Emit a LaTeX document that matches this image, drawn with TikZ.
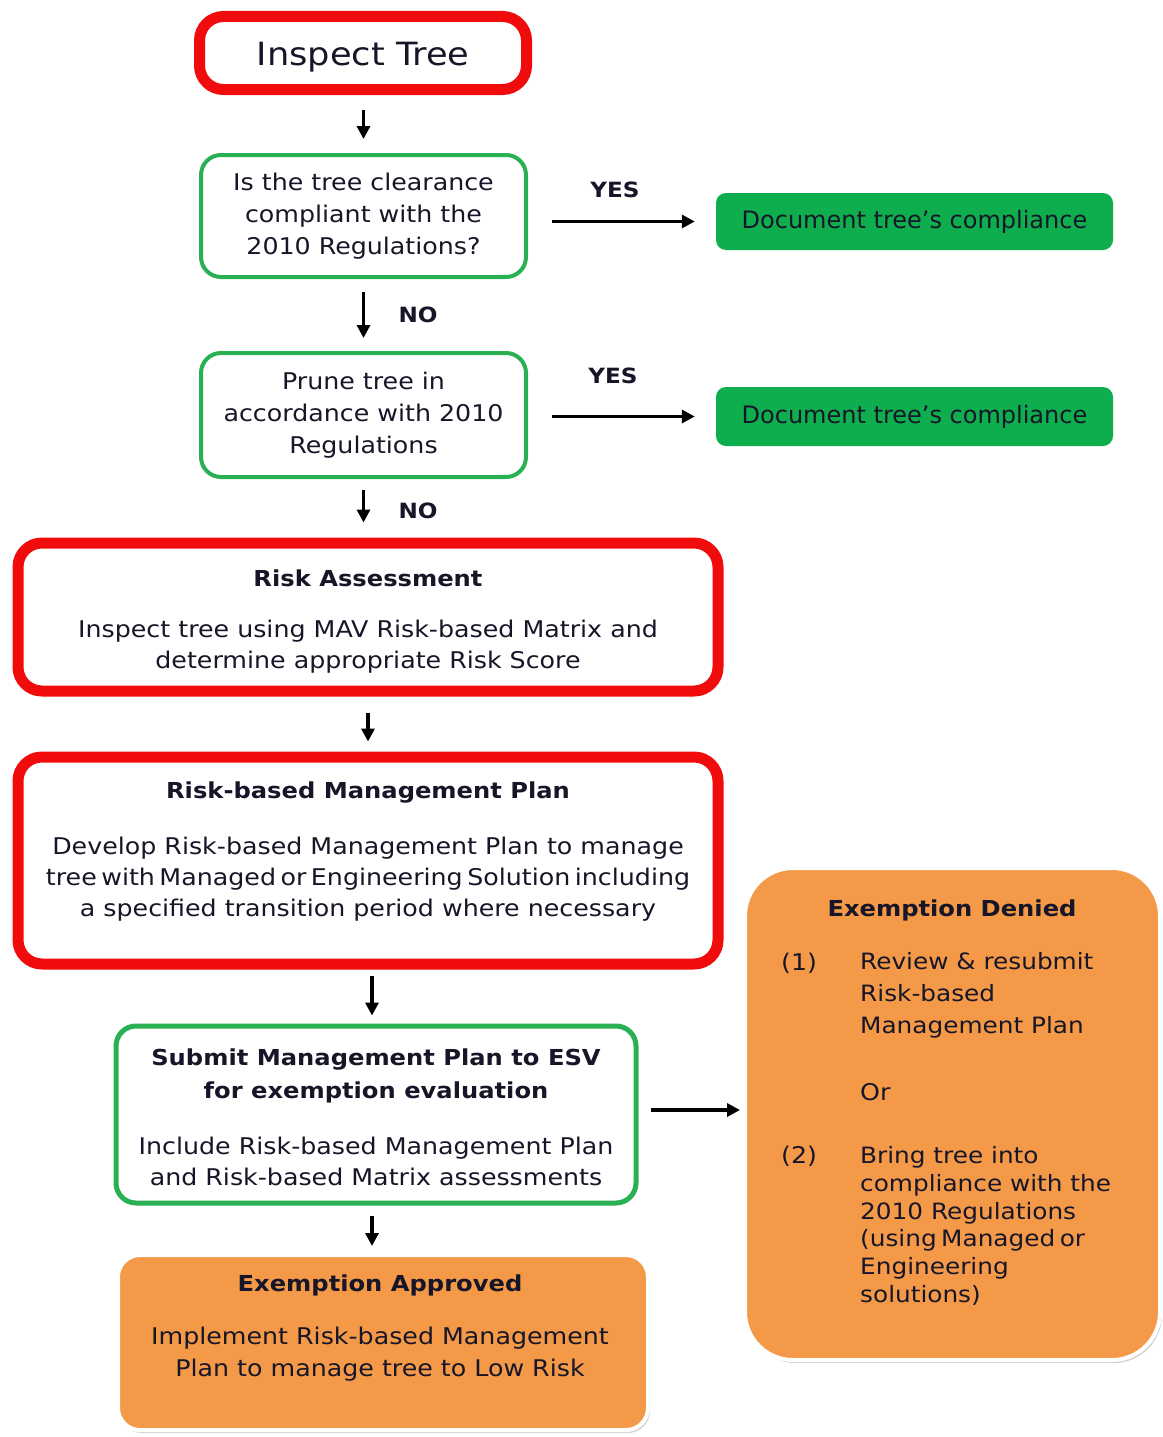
\documentclass[tikz,border=0pt]{standalone}
\usepackage{fontspec}
\setmainfont{DejaVu Sans}[FakeStretch=1.1]
\newfontfamily\docfont{DejaVu Sans}
\usetikzlibrary{arrows.meta,shadows}
\definecolor{myred}{RGB}{240,12,12}
\definecolor{mygreen}{RGB}{40,176,82}
\definecolor{docgreen}{RGB}{14,174,78}
\definecolor{myorange}{RGB}{243,153,72}
\definecolor{txt}{RGB}{22,22,40}
\tikzset{
  redbox/.style={draw=myred, line width=11pt, rounded corners=24pt, fill=white, inner sep=0pt},
  greenbox/.style={draw=mygreen, line width=4pt, rounded corners=20pt, fill=white, align=center, inner sep=0pt},
  docbox/.style={fill=docgreen, rounded corners=10pt, inner sep=0pt, font=\docfont\fontsize{24}{28}\selectfont},
  orbox/.style={fill=myorange, draw=white, line width=4pt, inner sep=0pt,
     drop shadow={opacity=0.35, shadow xshift=2pt, shadow yshift=-3pt}},
  body/.style={align=center, inner sep=0pt, font=\fontsize{23}{31}\selectfont},
  ttl/.style={align=center, inner sep=0pt, font=\bfseries\fontsize{22}{33}\selectfont},
  lbl/.style={inner sep=0pt, font=\bfseries\fontsize{21}{24}\selectfont},
  arr/.style={line width=3.5pt, -{Triangle[length=13pt,width=13pt]}},
}
\begin{document}
\begin{tikzpicture}[x=1pt,y=-1pt, text=txt]
\useasboundingbox[fill=white] (0,0) rectangle (1162,1437);

% boxes
\node[redbox, minimum width=327pt, minimum height=73pt, text height=33pt, text depth=7.6pt, font=\fontsize{32}{36}\selectfont] (inspect) at (363,53) {Inspect Tree};
\node[greenbox, body, minimum width=325pt, minimum height=122pt, font=\fontsize{23}{32}\selectfont] (q1) at (363.5,216) {Is the tree clearance\\compliant with the\\2010 Regulations?};
\node[docbox, minimum width=397pt, minimum height=57pt] (doc1) at (914.5,221.5) {Document tree’s compliance};
\node[greenbox, body, minimum width=325pt, minimum height=124pt, font=\fontsize{23}{32}\selectfont] (prune) at (363.5,415) {Prune tree in\\accordance with 2010\\Regulations};
\node[docbox, minimum width=397pt, minimum height=59pt] (doc2) at (914.5,416.5) {Document tree’s compliance};

\node[redbox, minimum width=700pt, minimum height=148pt] (ra) at (368,617) {};
\node[ttl] (ratitle) at (368,578) {Risk Assessment};
\node[body] (rabody) at (368,647) {Inspect tree using MAV Risk-based Matrix and\\determine appropriate Risk Score};

\node[redbox, minimum width=700pt, minimum height=207pt] (rbmp) at (368,860.5) {};
\node[ttl] (rbmptitle) at (368,793) {Risk-based Management Plan};
\node[body] (rbmpbody) at (368,879) {Develop Risk-based Management Plan to manage\\{\spaceskip=4.5pt plus 1pt\relax tree with Managed or Engineering Solution including}\\a specified transition period where necessary};

\node[greenbox, line width=5pt, minimum width=520pt, minimum height=177pt] (sub) at (376,1114.5) {};
\node[ttl] (subtitle) at (376,1075.5) {Submit Management Plan to ESV\\for exemption evaluation};
\node[body] (subbody) at (376,1161) {Include Risk-based Management Plan\\and Risk-based Matrix assessments};

\node[orbox, rounded corners=22pt, minimum width=530pt, minimum height=175pt] (app) at (383,1342.5) {};
\node[ttl] (apptitle) at (380,1285) {Exemption Approved};
\node[body, font=\fontsize{23}{32}\selectfont] (appbody) at (380,1354) {Implement Risk-based Management\\Plan to manage tree to Low Risk};

\node[orbox, rounded corners=48pt, minimum width=415pt, minimum height=492pt] (den) at (952.5,1114) {};
\node[ttl] (dentitle) at (952,910) {Exemption Denied};
\node[body, anchor=west] (n1) at (781,963) {(1)};
\node[body, anchor=west, align=left, font=\fontsize{22.5}{32}\selectfont] (b1) at (860,995) {Review \& resubmit\\Risk-based\\Management Plan};
\node[body, anchor=west] (or) at (860,1092) {Or};
\node[body, anchor=west] (n2) at (781,1156) {(2)};
\node[body, anchor=west, align=left, font=\fontsize{22.5}{27.8}\selectfont] (b2) at (860,1226) {Bring tree into\\compliance with the\\2010 Regulations\\{\spaceskip=4.5pt plus 1pt\relax(using Managed or}\\Engineering\\solutions)};

% connectors
\draw[arr, shorten <=15pt, shorten >=14pt] (inspect.south -| q1.north) -- (q1.north);
\draw[arr, shorten <=24pt, shorten >=21pt] (q1.east |- doc1.west) -- (doc1.west);
\node[lbl] (yes1) at (615,190) {YES};
\draw[arr, shorten <=13pt, shorten >=13pt] (q1.south) -- (prune.north);
\node[lbl] (no1) at (418,315) {NO};
\draw[arr, shorten <=24pt, shorten >=21pt] (prune.east |- doc2.west) -- (doc2.west);
\node[lbl] (yes2) at (613,376) {YES};
\draw[arr, shorten <=11pt, shorten >=15pt] (prune.south) -- (prune.south |- ra.north);
\node[lbl] (no2) at (418,511) {NO};
\draw[arr, shorten <=16pt, shorten >=10pt] (ra.south) -- (rbmp.north);
\draw[arr, shorten <=6pt, shorten >=8pt] (rbmp.south -| 372,0) -- (sub.north -| 372,0);
\draw[arr, shorten <=12pt, shorten >=3pt] (sub.east |- 0,1110) -- (den.west |- 0,1110);
\draw[arr, shorten <=10pt, shorten >=7pt] (sub.south -| 372,0) -- (app.north -| 372,0);
\end{tikzpicture}
\end{document}
